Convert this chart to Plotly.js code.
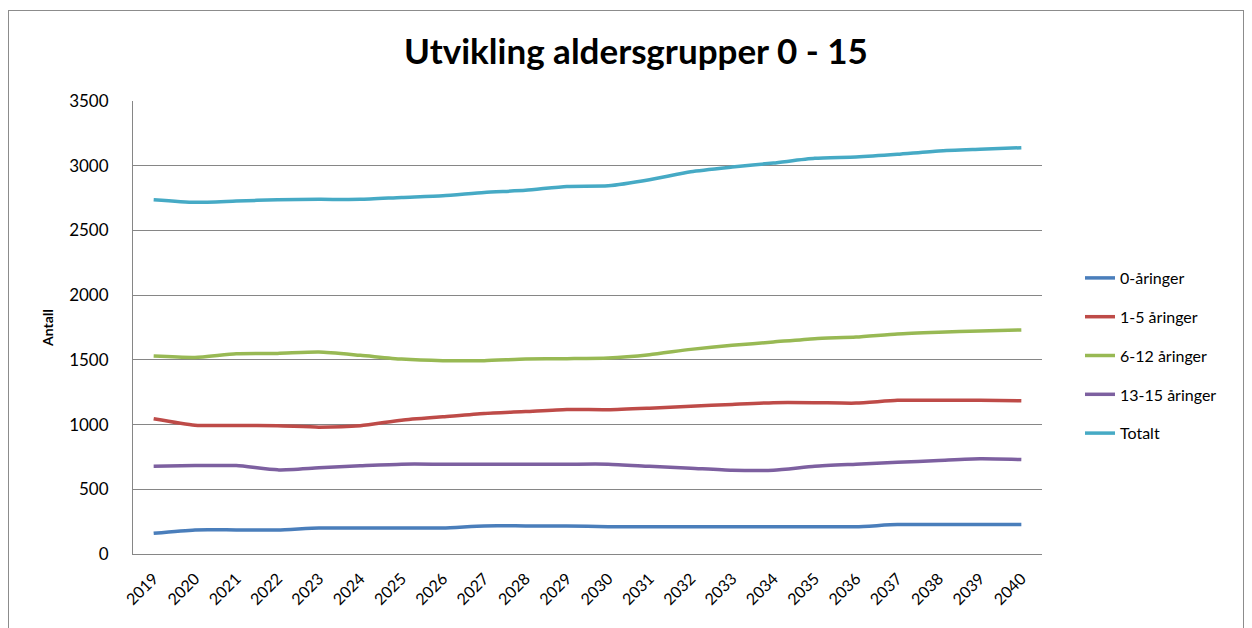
<!DOCTYPE html>
<html>
<head>
<meta charset="utf-8">
<script src="https://cdn.plot.ly/plotly-3.0.1.min.js"></script>
<style>
  html, body { margin: 0; padding: 0; background: #fff; }
  #wrap { position: relative; width: 1252px; height: 628px; overflow: hidden; }
  #chart { position: absolute; left: 0; top: 0; width: 1252px; height: 628px; }
  #frame { position: absolute; left: 8px; top: 10px; width: 1236px; height: 640px;
           border: 1px solid #8c8c8c; pointer-events: none; box-sizing: border-box; }
</style>
</head>
<body>
<div id="wrap">
  <div id="chart"></div>
  <div id="frame"></div>
</div>
<script>
const years = ['2019','2020','2021','2022','2023','2024','2025','2026','2027','2028','2029',
               '2030','2031','2032','2033','2034','2035','2036','2037','2038','2039','2040'];

const age0 = [160, 186, 186, 186, 201, 201, 201, 201, 217, 217, 217,
              211, 211, 211, 211, 211, 211, 211, 227, 227, 227, 227];
const age1to5 = [1045, 995, 993, 991, 980, 991, 1034, 1060, 1086, 1101, 1117,
                 1115, 1127, 1142, 1156, 1169, 1169, 1166, 1187, 1187, 1187, 1184];
const age6to12 = [1529, 1519, 1548, 1550, 1560, 1535, 1506, 1494, 1494, 1506, 1509,
                  1514, 1540, 1581, 1612, 1638, 1664, 1676, 1700, 1713, 1723, 1731];
const age13to15 = [678, 683, 683, 650, 666, 681, 694, 694, 694, 694, 694,
                   694, 678, 663, 647, 647, 678, 694, 709, 722, 735, 730];
const total = [2737, 2717, 2727, 2737, 2740, 2740, 2755, 2768, 2794, 2810, 2840,
               2845, 2892, 2954, 2990, 3021, 3057, 3067, 3088, 3114, 3127, 3139];

const seriesNames = ['0-åringer', '1-5 åringer', '6-12 åringer', '13-15 åringer', 'Totalt'];
const seriesColors = ['#4a7ebb', '#be4b48', '#98b954', '#7d60a0', '#46aac5'];
const seriesData = [age0, age1to5, age6to12, age13to15, total];

const font = 'Lato, "Open Sans", "Liberation Sans", sans-serif';

const traces = seriesData.map((vals, i) => ({
  x: years,
  y: vals,
  name: seriesNames[i],
  type: 'scatter',
  mode: 'lines',
  legendgroup: 'g' + i,
  line: { color: seriesColors[i], width: 3.5, shape: 'spline', smoothing: 0.6 }
}));

const layout = {
  width: 1252,
  height: 628,
  margin: { l: 133, r: 210, t: 101, b: 74 },
  paper_bgcolor: 'rgba(0,0,0,0)',
  plot_bgcolor: '#fff',
  title: {
    text: '<b>Utvikling aldersgrupper 0 - 15</b>',
    font: { family: font, size: 35, color: '#000' },
    x: 636 / 1252, xref: 'container', xanchor: 'center',
    y: 1 - 52 / 628, yref: 'container', yanchor: 'middle'
  },
  xaxis: {
    type: 'category',
    range: [-0.5, 21.5],
    tickangle: -45,
    tickfont: { family: font, size: 16, color: '#000' },
    showgrid: false,
    showline: true,
    linecolor: '#868686',
    linewidth: 1,
    ticks: '',
    ticklabelstandoff: 8,
    zeroline: false
  },
  yaxis: {
    range: [0, 3500],
    dtick: 500,
    tickfont: { family: font, size: 17, color: '#000' },
    showgrid: true,
    gridcolor: '#868686',
    gridwidth: 1,
    showline: true,
    linecolor: '#868686',
    linewidth: 1,
    zeroline: false,
    ticks: '',
    ticklabelstandoff: 20,
    title: {
      text: '<b>Antall</b>',
      font: { family: font, size: 14, color: '#000' },
      standoff: 12
    }
  },
  legend: {
    x: 1 + (1080 - 1042) / 909,
    xanchor: 'left',
    y: 0.5 - (355.5 - 327.5) / 453,
    yanchor: 'middle',
    font: { family: font, size: 16, color: '#000' },
    traceorder: 'grouped',
    tracegroupgap: 15,
    itemwidth: 30,
    bgcolor: 'rgba(0,0,0,0)'
  },
  showlegend: true
};

Plotly.newPlot('chart', traces, layout, { displayModeBar: false, staticPlot: true });
</script>
</body>
</html>
